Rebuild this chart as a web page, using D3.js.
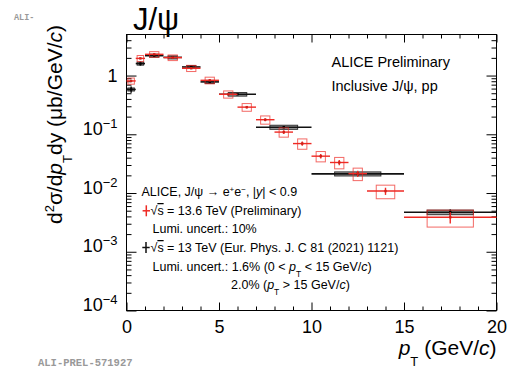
<!DOCTYPE html>
<html><head><meta charset="utf-8">
<script src="https://cdn.jsdelivr.net/npm/d3@7"></script>
<style>
html,body{margin:0;padding:0;background:#fff;}
svg{display:block;font-family:"Liberation Sans",Arial,Helvetica,sans-serif;}
</style></head><body>
<svg id="chart" width="510" height="368"></svg>
<script>
// pp at 13.6 TeV (preliminary): bin edges, centres, values (ub/GeV/c), relative stat and syst uncertainties
const newLow  = [0, 0.5, 1, 2, 3, 4, 5, 6, 7, 8, 9, 10, 11, 12, 13, 15];
const newHigh = [0.5, 1, 2, 3, 4, 5, 6, 7, 8, 9, 10, 11, 12, 13, 15, 20];
const newPt   = [0.25, 0.75, 1.5, 2.5, 3.5, 4.5, 5.5, 6.5, 7.5, 8.5, 9.5, 10.5, 11.5, 12.5, 14, 17.5];
const newVal  = [0.81, 1.96, 2.30, 2.02, 1.33, 0.83, 0.48, 0.29, 0.177, 0.109, 0.0695, 0.0424, 0.0331, 0.0214, 0.0108, 0.00387];
const newStat = [0.04, 0.03, 0.03, 0.03, 0.03, 0.03, 0.04, 0.05, 0.06, 0.07, 0.08, 0.09, 0.10, 0.12, 0.14, 0.22];
const newSyst = [0.12, 0.12, 0.11, 0.11, 0.12, 0.13, 0.14, 0.15, 0.16, 0.18, 0.20, 0.20, 0.22, 0.24, 0.26, 0.32];

// pp at 13 TeV (Eur. Phys. J. C 81 (2021) 1121)
const refLow  = [0, 0.5, 1, 2, 3, 4, 5, 7, 10, 15];
const refHigh = [0.5, 1, 2, 3, 4, 5, 7, 10, 15, 20];
const refPt   = [0.25, 0.75, 1.5, 2.5, 3.5, 4.5, 6, 8.5, 12.5, 17.5];
const refVal  = [0.58, 1.60, 2.18, 2.04, 1.40, 0.78, 0.48, 0.132, 0.0212, 0.0047];
const refStat = [0.12, 0.08, 0.03, 0.03, 0.03, 0.03, 0.03, 0.04, 0.08, 0.12];
const refSyst = [0.06, 0.06, 0.06, 0.06, 0.06, 0.06, 0.07, 0.08, 0.08, 0.09];

// axis ticks
const xMajor = [0, 5, 10, 15, 20];
const xMinor = [1, 2, 3, 4, 6, 7, 8, 9, 11, 12, 13, 14, 16, 17, 18, 19];
const yExponents = [-4, -3, -2, -1, 0];

const RED = "#ee2a24";
const FONT = "Liberation Sans, Arial, Helvetica, sans-serif";

const svg = d3.select("#chart");
const x = d3.scaleLinear().domain([0, 20]).range([126.5, 496.5]);
const y = d3.scaleLog().domain([1e-4, 5]).range([310.5, 34.5]);

// rich text helper: parts = [[text, {it, sup, sub, size, over}], ...]
function rich(sel, parts, base) {
  let off = 0;
  parts.forEach(([t, o = {}]) => {
    const ts = sel.append("tspan").text(t);
    let target = 0, size = base;
    if (o.sup) { target = -o.sup; size = o.size || base * 0.7; }
    if (o.sub) { target = o.sub; size = o.size || base * 0.7; }
    ts.attr("dy", target - off).attr("font-size", size);
    if (o.it) ts.attr("font-style", "italic");
    if (o.over) ts.attr("text-decoration", "overline");
    off = target;
  });
  return sel;
}

// ---- axes (ticks pointing into the frame on all four sides)
function ticks(gen, values, size, tf) {
  svg.append("g").attr("transform", tf)
    .call(gen.tickValues(values).tickSize(-size).tickSizeOuter(0).tickFormat(""))
    .call(g => g.select(".domain").remove());
}
const yMinor = [];
yExponents.forEach(e => { for (let k = 2; k <= 9; k++) { const v = k * Math.pow(10, e); if (v < 5) yMinor.push(v); } });
const yMajor = yExponents.map(e => Math.pow(10, e));

ticks(d3.axisTop(x), xMajor, 8, "translate(0,34.5)");
ticks(d3.axisTop(x), xMinor, 4, "translate(0,34.5)");
ticks(d3.axisBottom(x), xMinor, 4, "translate(0,310.5)");
ticks(d3.axisRight(y), yMajor, 10, "translate(496.5,0)");
ticks(d3.axisRight(y), yMinor, 5, "translate(496.5,0)");
ticks(d3.axisLeft(y), yMinor, 5, "translate(126.5,0)");

svg.append("g").attr("transform", "translate(0,310.5)")
  .call(d3.axisBottom(x).tickValues(xMajor).tickSize(-8).tickSizeOuter(0).tickPadding(10).tickFormat(d3.format("d")))
  .call(g => g.select(".domain").remove())
  .call(g => g.selectAll("text").attr("font-family", FONT).attr("font-size", 18).attr("fill", "#000"));

svg.append("g").attr("transform", "translate(126.5,0)")
  .call(d3.axisLeft(y).tickValues(yMajor).tickSize(-10).tickSizeOuter(0).tickPadding(9).tickFormat(""))
  .call(g => g.select(".domain").remove())
  .call(g => g.selectAll(".tick text").each(function (d) {
    const t = d3.select(this).attr("font-family", FONT).attr("font-size", 18).attr("fill", "#000");
    const e = Math.round(Math.log10(d));
    if (e === 0) t.append("tspan").text("1");
    else rich(t, [["10"], ["\u2212" + (-e), { sup: 7, size: 13 }]], 18);
  }));

// frame
svg.append("rect").attr("x", 126.5).attr("y", 34.5).attr("width", 370).attr("height", 276)
  .attr("fill", "none").attr("stroke", "#000").attr("stroke-width", 1);

// ---- data
function series(lo, hi, pt, val, stat, syst, style) {
  const rows = pt.map((p, i) => ({ p, lo: lo[i], hi: hi[i], v: val[i], st: stat[i], sy: syst[i] }));
  const hw = d => Math.max(0.175, (d.hi - d.lo) / 4);
  const g = svg.append("g");
  g.selectAll("rect.sys").data(rows).join("rect").attr("class", "sys")
    .attr("x", d => x(d.p - hw(d)))
    .attr("width", d => x(d.p + hw(d)) - x(d.p - hw(d)))
    .attr("y", d => y(d.v * (1 + d.sy)))
    .attr("height", d => y(d.v * (1 - d.sy)) - y(d.v * (1 + d.sy)))
    .attr("fill", style.boxFill).attr("stroke", style.boxStroke).attr("stroke-width", 1)
    .attr("stroke-opacity", style.boxOpacity);
  g.selectAll("line.h").data(rows).join("line").attr("class", "h")
    .attr("x1", d => x(d.lo)).attr("x2", d => x(d.hi))
    .attr("y1", d => y(d.v)).attr("y2", d => y(d.v))
    .attr("stroke", style.line).attr("stroke-width", style.width);
  g.selectAll("line.v").data(rows).join("line").attr("class", "v")
    .attr("x1", d => x(d.p)).attr("x2", d => x(d.p))
    .attr("y1", d => y(d.v * (1 + d.st))).attr("y2", d => y(d.v * (1 - d.st)))
    .attr("stroke", style.line).attr("stroke-width", style.width);
  g.selectAll("rect.m").data(rows).join("rect").attr("class", "m")
    .attr("x", d => x(d.p) - 1.2).attr("y", d => y(d.v) - 1.2)
    .attr("width", 2.4).attr("height", 2.4).attr("fill", style.marker);
}

series(refLow, refHigh, refPt, refVal, refStat, refSyst,
  { boxFill: "#a0a0a0", boxStroke: "#222", boxOpacity: 0.9, line: "#111", width: 1.6, marker: "#000" });
series(newLow, newHigh, newPt, newVal, newStat, newSyst,
  { boxFill: "none", boxStroke: RED, boxOpacity: 0.7, line: RED, width: 1.4, marker: "#d0201a" });

// ---- titles
svg.append("text").attr("x", 133).attr("y", 30).attr("font-size", 31).attr("font-family", FONT).text("J/\u03c8");

rich(svg.append("text").attr("text-anchor", "end").attr("x", 496.5).attr("y", 355).attr("font-size", 21),
  [["p", { it: true }], ["T", { sub: 11, size: 13 }], [" (GeV/"], ["c", { it: true }], [")"]], 21);

rich(svg.append("text").attr("text-anchor", "end").attr("font-size", 21)
  .attr("transform", "translate(62,25) rotate(-90)"),
  [["d"], ["2", { sup: 8, size: 13 }], ["\u03c3/d"], ["p", { it: true }], ["T", { sub: 10, size: 13 }],
   ["dy (\u03bcb/GeV/"], ["c", { it: true }], [")"]], 21);

// ---- annotations
svg.append("text").attr("x", 331.5).attr("y", 67).attr("font-size", 14.5).text("ALICE Preliminary");
svg.append("text").attr("x", 331.5).attr("y", 91).attr("font-size", 14.5).text("Inclusive J/\u03c8, pp");

const LS = 12.5;
rich(svg.append("text").attr("x", 141.5).attr("y", 196).attr("font-size", LS),
  [["ALICE, J/\u03c8 \u2192 e"], ["+", { sup: 4, size: 8 }], ["e"], ["\u2212", { sup: 4, size: 8 }],
   [", |"], ["y", { it: true }], ["| < 0.9"]], LS);

// legend crosses
function cross(cx, cy, color) {
  svg.append("line").attr("x1", cx - 3.7).attr("x2", cx + 3.7).attr("y1", cy).attr("y2", cy).attr("stroke", color).attr("stroke-width", 1.5);
  svg.append("line").attr("x1", cx).attr("x2", cx).attr("y1", cy - 5.5).attr("y2", cy + 5.5).attr("stroke", color).attr("stroke-width", 1.5);
}
cross(146.3, 210.8, RED);
cross(146, 247.5, "#111");

rich(svg.append("text").attr("x", 150.5).attr("y", 215).attr("font-size", LS),
  [["\u221a"], ["s", { over: true }], [" = 13.6 TeV (Preliminary)"]], LS);
svg.append("text").attr("x", 152.5).attr("y", 233).attr("font-size", LS).text("Lumi. uncert.: 10%");
rich(svg.append("text").attr("x", 150.5).attr("y", 252).attr("font-size", LS),
  [["\u221a"], ["s", { over: true }], [" = 13 TeV (Eur. Phys. J. C 81 (2021) 1121)"]], LS);
rich(svg.append("text").attr("x", 152.5).attr("y", 271).attr("font-size", LS),
  [["Lumi. uncert.: 1.6% (0 < "], ["p", { it: true }], ["T", { sub: 6, size: 8.5 }], [" < 15 GeV/"], ["c", { it: true }], [")"]], LS);
rich(svg.append("text").attr("x", 231).attr("y", 289).attr("font-size", LS),
  [["2.0% ("], ["p", { it: true }], ["T", { sub: 6, size: 8.5 }], [" > 15 GeV/"], ["c", { it: true }], [")"]], LS);

// figure tags
svg.append("text").attr("x", 14).attr("y", 20).attr("font-family", "Liberation Mono, Courier New, monospace")
  .attr("font-weight", "bold").attr("font-size", 8.5).attr("fill", "#999").text("ALI-");
svg.append("text").attr("x", 38).attr("y", 366).attr("font-family", "Liberation Mono, Courier New, monospace")
  .attr("font-weight", "bold").attr("font-size", 10.5).attr("fill", "#999").text("ALI-PREL-571927");
</script>
</body></html>
